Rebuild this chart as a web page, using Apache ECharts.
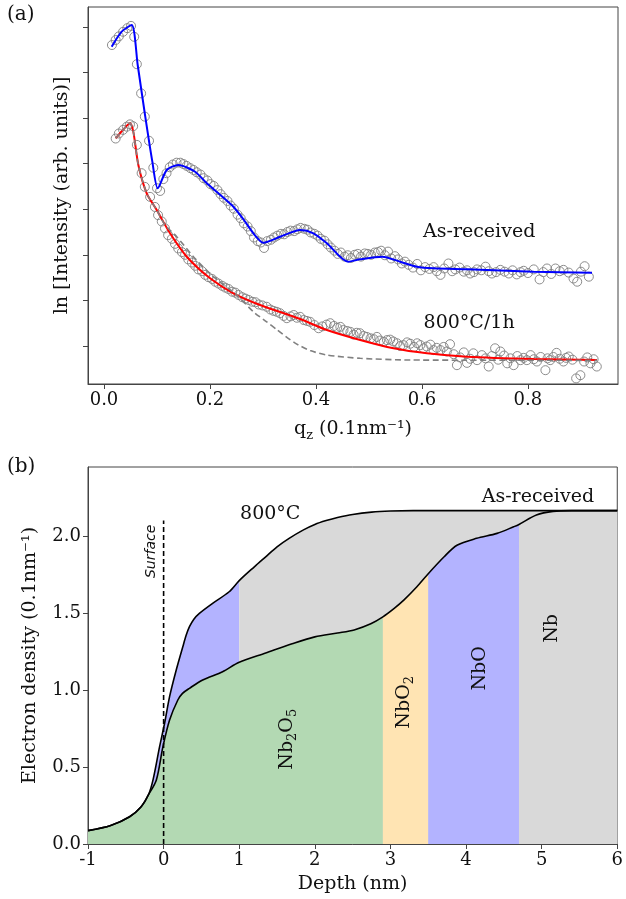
<!DOCTYPE html>
<html>
<head>
<meta charset="utf-8">
<script src="https://cdn.jsdelivr.net/npm/echarts@6/dist/echarts.min.js"></script>
<style>
html, body { margin: 0; padding: 0; background: #fff; }
#chart { width: 626px; height: 899px; }
</style>
</head>
<body>
<div id="chart"></div>
<script>
// ---- panel (a): reflectivity, q in 0.1nm^-1, ln intensity (offset units) ----
const asFitQ = [0.0145,0.0334,0.0523,0.0636,0.0774,0.0912,0.1014,0.1184,0.1403,0.1719,0.1940,0.2159,0.2442,0.263,0.2820,0.3008,0.3324,0.3702,0.3953,0.4206,0.4608,0.4835,0.5250,0.5590,0.5906,0.6219,0.6850,0.8108,0.9210];
const asFitI = [6.564,6.893,7.039,6.162,5.066,4.042,3.458,3.860,3.969,3.822,3.568,3.349,3.055,2.78,2.471,2.265,2.397,2.544,2.471,2.252,1.849,1.901,1.958,1.849,1.739,1.704,1.682,1.629,1.607];

const htFitQ = [0.0221,0.034,0.0491,0.0553,0.0648,0.0806,0.0995,0.1246,0.1562,0.2002,0.2442,0.2946,0.3702,0.4206,0.4835,0.5464,0.6094,0.6850,0.8108,0.9305];
const htFitI = [4.555,4.715,4.884,4.700,3.969,3.349,2.982,2.471,1.958,1.485,1.156,0.899,0.592,0.351,0.132,-0.050,-0.160,-0.235,-0.285,-0.307];

const htModelQ = [0.0221,0.034,0.0491,0.0553,0.0648,0.0806,0.0995,0.1152,0.1373,0.1687,0.2064,0.2505,0.282,0.307,0.326,0.360,0.389,0.4206,0.4835,0.5779,0.9305];
const htModelI = [4.555,4.715,4.884,4.700,3.969,3.349,2.982,2.654,2.397,1.958,1.520,1.118,0.75,0.53,0.36,0.07,-0.10,-0.197,-0.27,-0.307,-0.314];

const asDataQ = [0.015,0.022,0.028,0.036,0.044,0.051,0.057,0.062,0.070,0.077,0.085,0.093,0.100,0.106,0.112,0.118,0.124,0.130,0.137,0.144,0.150,0.156,0.163,0.169,0.175,0.182,0.188,0.195,0.201,0.207,0.214,0.220,0.226,0.233,0.239,0.245,0.252,0.258,0.264,0.271,0.277,0.283,0.290,0.296,0.302,0.308,0.315,0.321,0.327,0.334,0.340,0.346,0.352,0.359,0.365,0.371,0.378,0.384,0.390,0.397,0.403,0.409,0.416,0.422,0.428,0.435,0.441,0.447,0.454,0.460,0.466,0.473,0.479,0.485,0.492,0.498,0.504,0.511,0.517,0.523,0.530,0.536,0.542,0.549,0.555,0.562,0.568,0.575,0.583,0.591,0.598,0.606,0.614,0.622,0.628,0.635,0.642,0.650,0.657,0.663,0.671,0.679,0.685,0.691,0.698,0.704,0.712,0.720,0.726,0.732,0.740,0.748,0.756,0.764,0.771,0.779,0.786,0.792,0.800,0.811,0.822,0.829,0.836,0.844,0.852,0.860,0.867,0.877,0.886,0.893,0.900,0.907,0.915];
const asDataI = [6.60,6.71,6.79,6.89,6.97,7.02,6.78,6.18,5.54,5.03,4.50,3.91,3.46,3.40,3.66,3.79,3.92,3.98,4.02,4.02,3.99,3.95,3.90,3.86,3.81,3.76,3.68,3.63,3.55,3.51,3.42,3.33,3.25,3.18,3.08,3.01,2.88,2.80,2.69,2.62,2.52,2.38,2.30,2.27,2.15,2.30,2.33,2.38,2.42,2.46,2.45,2.50,2.53,2.52,2.56,2.59,2.57,2.55,2.49,2.46,2.42,2.35,2.31,2.23,2.16,2.09,2.02,2.05,1.96,1.99,1.93,2.00,2.02,1.96,2.03,2.02,2.00,2.05,2.06,2.09,1.99,2.07,1.92,1.97,1.90,1.81,1.85,1.78,1.72,1.80,1.66,1.73,1.69,1.73,1.64,1.56,1.70,1.81,1.64,1.68,1.72,1.63,1.66,1.59,1.62,1.68,1.66,1.74,1.64,1.59,1.62,1.67,1.63,1.59,1.66,1.57,1.62,1.65,1.60,1.68,1.46,1.62,1.70,1.58,1.70,1.64,1.67,1.61,1.48,1.41,1.63,1.75,1.52];

const htDataQ = [0.022,0.028,0.036,0.043,0.049,0.055,0.062,0.071,0.077,0.087,0.096,0.102,0.109,0.115,0.121,0.128,0.134,0.140,0.147,0.153,0.159,0.166,0.172,0.178,0.185,0.191,0.197,0.204,0.210,0.216,0.223,0.229,0.235,0.242,0.248,0.254,0.261,0.267,0.273,0.280,0.286,0.292,0.299,0.307,0.314,0.320,0.326,0.332,0.339,0.345,0.352,0.358,0.364,0.370,0.377,0.383,0.389,0.397,0.405,0.412,0.420,0.427,0.434,0.440,0.446,0.452,0.459,0.465,0.471,0.477,0.483,0.490,0.496,0.503,0.509,0.515,0.521,0.528,0.534,0.540,0.546,0.553,0.559,0.565,0.572,0.578,0.585,0.591,0.597,0.603,0.609,0.616,0.622,0.628,0.635,0.641,0.647,0.653,0.660,0.666,0.672,0.679,0.685,0.691,0.697,0.704,0.713,0.720,0.726,0.732,0.738,0.744,0.748,0.755,0.761,0.767,0.773,0.780,0.786,0.792,0.798,0.805,0.811,0.817,0.824,0.833,0.837,0.842,0.848,0.854,0.860,0.867,0.872,0.877,0.884,0.891,0.899,0.906,0.912,0.918,0.924,0.930];
const htDataI = [4.55,4.66,4.74,4.81,4.86,4.82,4.41,3.79,3.49,3.27,3.05,2.87,2.73,2.58,2.43,2.35,2.24,2.14,2.06,2.00,1.90,1.83,1.76,1.68,1.64,1.56,1.51,1.47,1.41,1.37,1.32,1.28,1.25,1.19,1.17,1.12,1.07,1.04,1.01,0.97,0.96,0.91,0.89,0.86,0.80,0.77,0.75,0.72,0.66,0.61,0.65,0.68,0.62,0.64,0.57,0.55,0.53,0.46,0.39,0.43,0.47,0.50,0.44,0.40,0.42,0.35,0.33,0.31,0.25,0.29,0.28,0.22,0.20,0.17,0.15,0.20,0.12,0.09,0.13,0.14,0.10,0.06,0.00,0.02,0.08,0.05,-0.02,0.06,0.02,-0.05,-0.01,0.03,-0.09,-0.04,-0.09,-0.02,-0.12,0.04,-0.18,-0.42,-0.25,-0.14,-0.37,-0.28,-0.16,-0.31,-0.20,-0.27,-0.45,-0.22,-0.05,-0.30,-0.12,-0.21,-0.38,-0.27,-0.42,-0.22,-0.31,-0.26,-0.31,-0.20,-0.29,-0.34,-0.24,-0.53,-0.27,-0.31,-0.24,-0.15,-0.28,-0.34,-0.26,-0.23,-0.30,-0.71,-0.64,-0.34,-0.25,-0.38,-0.29,-0.45];

const qTicks = [0, 0.2, 0.4, 0.6, 0.8];
const lnTicks = [0, 1, 2, 3, 4, 5, 6, 7];
const topNotes = ['As-received', '800°C/1h'];
const topNoteQ = [0.708, 0.689];
const topNoteI = [2.50, 0.51];

// ---- panel (b): electron density profiles ----
const heatDepth = [-1.0,-0.7,-0.45,-0.3,-0.2,-0.14,-0.053,0.013,0.079,0.167,0.254,0.298,0.342,0.40,0.473,0.648,0.867,1.0,1.2,1.35,1.5,1.66,1.85,2.0,2.15,2.3,2.5,2.75,3.0,3.3,4.0,5.0,6.0];
const heatRho   = [0.087,0.12,0.177,0.24,0.32,0.416,0.632,0.784,0.957,1.13,1.281,1.355,1.411,1.46,1.498,1.563,1.638,1.71,1.80,1.865,1.93,1.985,2.04,2.075,2.10,2.12,2.14,2.155,2.162,2.165,2.165,2.165,2.165];

const asrDepth = [-1.0,-0.7,-0.45,-0.3,-0.2,-0.096,-0.009,0.079,0.188,0.25,0.342,0.517,0.78,1.0,1.35,1.7,2.0,2.3,2.52,2.74,2.9,3.05,3.18,3.35,3.5,3.71,3.88,4.14,4.41,4.63,4.7,4.93,5.15,5.4,6.0];
const asrRho   = [0.087,0.12,0.177,0.24,0.32,0.416,0.632,0.805,0.935,0.978,1.011,1.065,1.119,1.18,1.24,1.30,1.345,1.37,1.39,1.43,1.475,1.53,1.585,1.67,1.755,1.865,1.94,1.985,2.017,2.06,2.075,2.136,2.160,2.165,2.165];

// layer boundaries (nm) and fill colours of each slab
const heatEdges = [-1, 1.0, 6];
const heatColors = ['#b3b3ff', '#d9d9d9'];                      // NbO, Nb
const asrEdges = [-1, 2.9, 3.5, 4.7, 6];
const asrColors = ['#b3d9b3', '#ffe4b3', '#b3b3ff', '#d9d9d9']; // Nb2O5, NbO2, NbO, Nb
const surfaceDepth = 0;
const surfaceTop = 2.1;
const depthTicks = [-1, 0, 1, 2, 3, 4, 5, 6];
const rhoTicks = [0, 0.5, 1.0, 1.5, 2.0];

const layerNames = ['{m|Nb}{s|2}{m|O}{s|5}', '{m|NbO}{s|2}', '{m|NbO}', '{m|Nb}'];
const layerDepth = [1.63, 3.18, 4.19, 5.14];
const layerRho = [0.68, 0.92, 1.14, 1.40];
const curveNames = ['800°C', 'As-received'];
const curveNameDepth = [1.41, 4.95];
const curveNameRho = [2.14, 2.25];

const SERIF = 'DejaVu Serif';
const FRAME = '#444';

function zip(xs, ys) { return xs.map((x, i) => [x, ys[i]]); }

// one filled area per slab, cut from the profile between two edges
function slabs(xs, ys, edges, colors) {
    const out = [];
    for (let k = 0; k < colors.length; k++) {
        const pts = zip(xs, ys).filter(p => p[0] >= edges[k] && p[0] <= edges[k + 1]);
        out.push({
            type: 'line', xAxisIndex: 1, yAxisIndex: 1, z: 1, silent: true,
            symbol: 'none', smooth: 0.3,
            lineStyle: { width: 0, opacity: 0 },
            areaStyle: { color: colors[k], opacity: 1 },
            data: pts
        });
    }
    return out;
}

const chart = echarts.init(document.getElementById('chart'));

const tickLabel = { fontFamily: SERIF, fontSize: 18, color: '#111', margin: 7 };
const nameText = { fontFamily: SERIF, fontSize: 19, color: '#111' };
const subRich = {
    m: { fontFamily: SERIF, fontSize: 19, color: '#111', lineHeight: 25 },
    s: { fontFamily: SERIF, fontSize: 13, color: '#111', lineHeight: 13, verticalAlign: 'bottom' }
};
const axisLine = { show: true, onZero: false, lineStyle: { color: FRAME } };
const noteLabel = { show: true, position: 'inside', formatter: p => p.name, fontFamily: SERIF, fontSize: 19, color: '#111' };
const circles = { color: 'rgba(0,0,0,0)', borderColor: '#808080', borderWidth: 1, opacity: 0.9 };

const series = [
    {
        type: 'scatter', xAxisIndex: 0, yAxisIndex: 0, z: 2, silent: true,
        symbol: 'circle', symbolSize: 9, itemStyle: circles,
        data: zip(asDataQ, asDataI)
    },
    {
        type: 'scatter', xAxisIndex: 0, yAxisIndex: 0, z: 2, silent: true,
        symbol: 'circle', symbolSize: 9, itemStyle: circles,
        data: zip(htDataQ, htDataI)
    },
    {
        type: 'line', xAxisIndex: 0, yAxisIndex: 0, z: 4, silent: true,
        symbol: 'none', smooth: 0.25,
        lineStyle: { color: '#0000ff', width: 2 },
        data: zip(asFitQ, asFitI)
    },
    {
        type: 'line', xAxisIndex: 0, yAxisIndex: 0, z: 4, silent: true,
        symbol: 'none', smooth: 0.25,
        lineStyle: { color: '#ff0000', width: 2 },
        data: zip(htFitQ, htFitI)
    },
    {
        type: 'line', xAxisIndex: 0, yAxisIndex: 0, z: 5, silent: true,
        symbol: 'none', smooth: 0.25,
        lineStyle: { color: '#808080', width: 1.6, type: [6, 3.5] },
        data: zip(htModelQ, htModelI)
    },
    {
        type: 'scatter', xAxisIndex: 0, yAxisIndex: 0, z: 6, silent: true,
        symbolSize: 0, itemStyle: { opacity: 1 },
        label: noteLabel,
        data: topNotes.map((t, i) => ({ name: t, value: [topNoteQ[i], topNoteI[i]] }))
    }
].concat(
    slabs(heatDepth, heatRho, heatEdges, heatColors),
    slabs(asrDepth, asrRho, asrEdges, asrColors),
    [
        {
            type: 'line', xAxisIndex: 1, yAxisIndex: 1, z: 3, silent: true,
            symbol: 'none', smooth: 0.3,
            lineStyle: { color: '#000', width: 1.6 },
            data: zip(heatDepth, heatRho)
        },
        {
            type: 'line', xAxisIndex: 1, yAxisIndex: 1, z: 3, silent: true,
            symbol: 'none', smooth: 0.3,
            lineStyle: { color: '#000', width: 1.6 },
            data: zip(asrDepth, asrRho)
        },
        {
            type: 'line', xAxisIndex: 1, yAxisIndex: 1, z: 4, silent: true,
            symbol: 'none',
            lineStyle: { color: '#000', width: 1.6, type: [5, 3] },
            data: [[surfaceDepth, 0], [surfaceDepth, surfaceTop]]
        },
        {
            type: 'scatter', xAxisIndex: 1, yAxisIndex: 1, z: 6, silent: true,
            symbolSize: 0, itemStyle: { opacity: 1 },
            label: noteLabel,
            data: curveNames.map((t, i) => ({ name: t, value: [curveNameDepth[i], curveNameRho[i]] }))
                .concat(layerNames.map((t, i) => ({
                    name: t, value: [layerDepth[i], layerRho[i]],
                    label: { rotate: 90, rich: subRich }
                })))
                .concat([{
                    name: 'Surface', value: [-0.16, 1.9],
                    label: { rotate: 90, fontFamily: 'DejaVu Sans', fontStyle: 'italic', fontSize: 14, color: '#111' }
                }])
        }
    ]
);

const option = {
    animation: false,
    backgroundColor: '#fff',
    graphic: [
        { type: 'text', left: 7, top: 5, style: { text: '(a)', font: '20px "DejaVu Serif"', fill: '#111' } },
        { type: 'text', left: 7, top: 457, style: { text: '(b)', font: '20px "DejaVu Serif"', fill: '#111' } }
    ],
    grid: [
        { left: 88, top: 7, right: 8, bottom: 515, show: true, borderColor: FRAME, borderWidth: 1 },
        { left: 88, top: 467, right: 5, bottom: 55, show: true, borderColor: FRAME, borderWidth: 1 }
    ],
    xAxis: [
        {
            type: 'value', gridIndex: 0, min: -0.0302, max: 0.970,
            axisLine: axisLine,
            axisTick: { show: true, customValues: qTicks, length: 5, lineStyle: { color: FRAME } },
            axisLabel: Object.assign({ customValues: qTicks, formatter: v => v.toFixed(1) }, tickLabel),
            splitLine: { show: false },
            name: '{m|q}{s|z}{m| (0.1nm⁻¹)}',
            nameLocation: 'middle', nameGap: 33,
            nameTextStyle: { rich: subRich }
        },
        {
            type: 'value', gridIndex: 1, min: -1, max: 6,
            axisLine: axisLine,
            axisTick: { show: true, customValues: depthTicks, length: 5, lineStyle: { color: FRAME } },
            axisLabel: Object.assign({ customValues: depthTicks, formatter: v => String(v) }, tickLabel),
            splitLine: { show: false },
            name: 'Depth (nm)', nameLocation: 'middle', nameGap: 31,
            nameTextStyle: nameText
        }
    ],
    yAxis: [
        {
            type: 'value', gridIndex: 0, min: -0.833, max: 7.434,
            axisLine: axisLine,
            axisTick: { show: true, customValues: lnTicks, length: 5, lineStyle: { color: FRAME } },
            axisLabel: { show: false },
            splitLine: { show: false },
            name: 'ln [Intensity (arb. units)]', nameLocation: 'middle', nameGap: 16,
            nameTextStyle: nameText
        },
        {
            type: 'value', gridIndex: 1, min: 0, max: 2.448,
            axisLine: axisLine,
            axisTick: { show: true, customValues: rhoTicks, length: 5, lineStyle: { color: FRAME } },
            axisLabel: Object.assign({ customValues: rhoTicks, formatter: v => v.toFixed(1) }, tickLabel),
            splitLine: { show: false },
            name: 'Electron density (0.1nm⁻¹)', nameLocation: 'middle', nameGap: 48,
            nameTextStyle: nameText
        }
    ],
    series: series
};

chart.setOption(option);
</script>
</body>
</html>
